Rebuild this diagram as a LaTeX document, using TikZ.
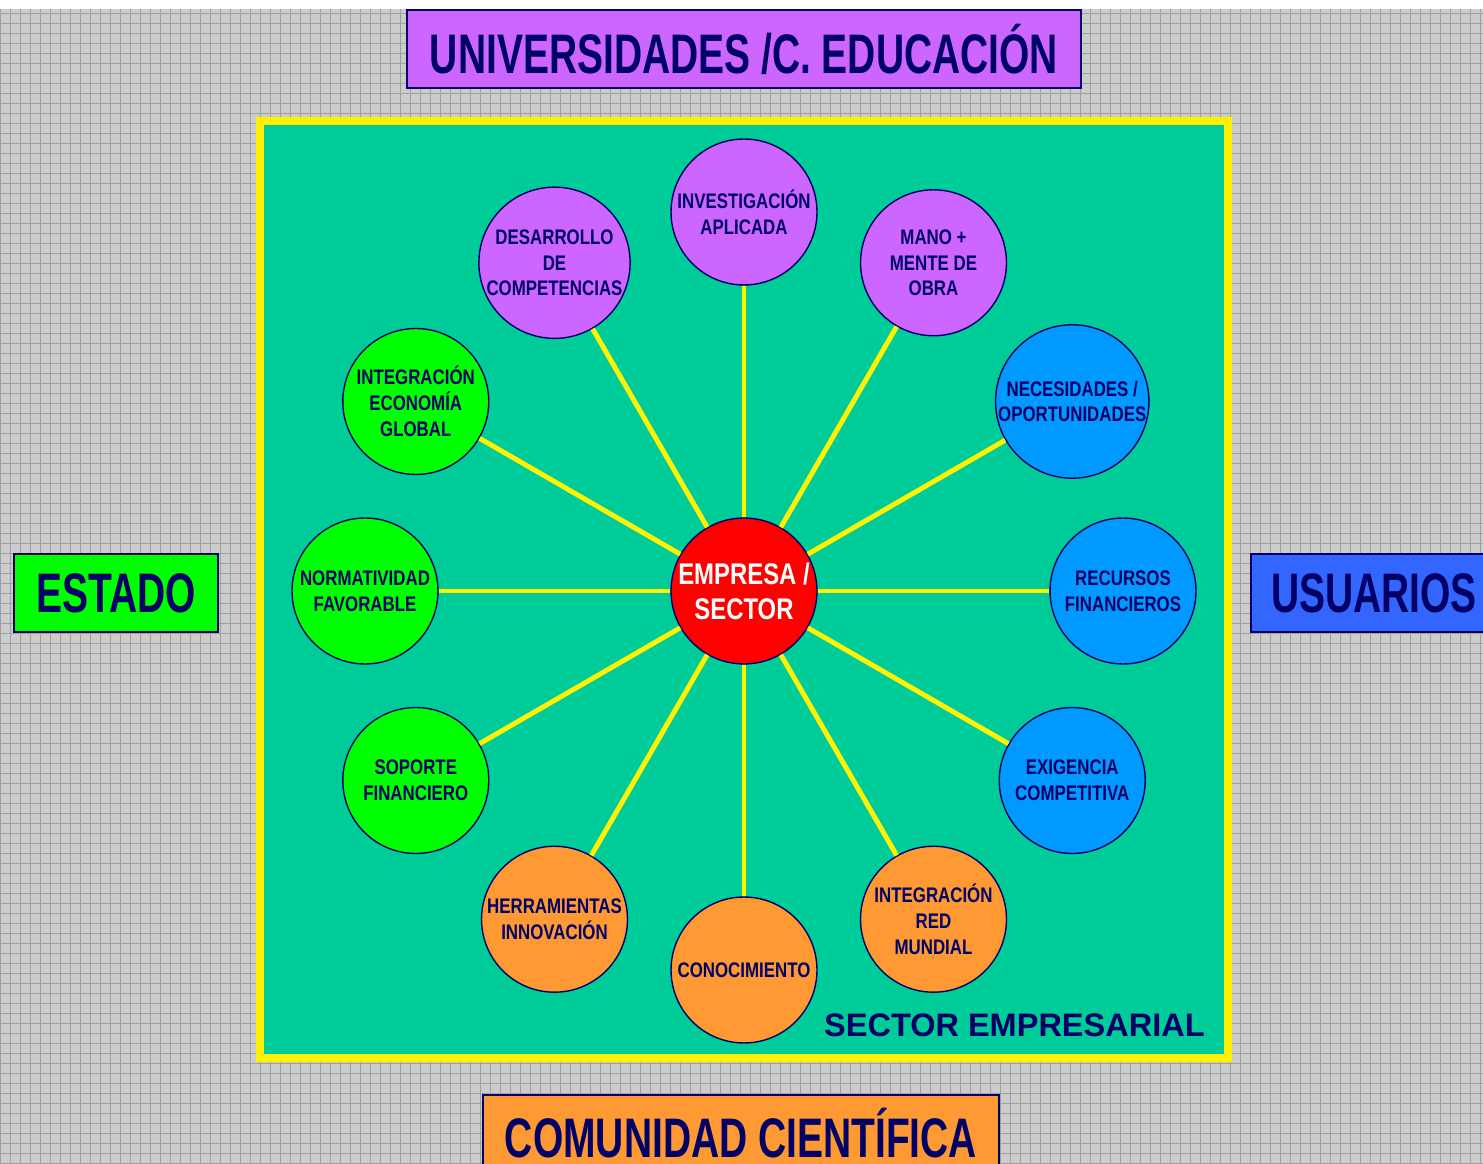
\documentclass[tikz,border=0pt]{standalone}
\usepackage{fontspec}
\setmainfont{Liberation Sans}
\newfontfamily\narrowfont[FakeStretch=0.80]{Liberation Sans}
\newfontfamily\tagfont[FakeStretch=0.70]{Liberation Sans}
\usetikzlibrary{positioning}
\definecolor{navy}{HTML}{000066}
\definecolor{purp}{HTML}{CC66FF}
\definecolor{bluec}{HTML}{0099FF}
\definecolor{greenc}{HTML}{00FF00}
\definecolor{orangec}{HTML}{FF9933}
\definecolor{teal}{HTML}{00CC99}
\definecolor{userblue}{HTML}{3366FF}
\tikzset{
  bubble/.style={circle, draw=navy, line width=0.8pt, minimum size=2.92cm, inner sep=0pt,
    align=center, text=navy, font=\narrowfont\bfseries\fontsize{12}{14.7}\selectfont},
  spoke/.style={yellow, line width=2.8pt},
  tag/.style={draw=navy, line width=0.9pt, text=navy, inner sep=0pt,
    font=\tagfont\bfseries\fontsize{31.7}{36}\selectfont}
}
\begin{document}
\begin{tikzpicture}[x=0.02cm,y=0.02cm]
    \useasboundingbox (0,0) rectangle (1483,1163);
    \clip (0,0) rectangle (1483,1163);
    % background
    \fill[white](0,0) rectangle (1483,1163);
    \fill[gray!40](0,0) rectangle (1483,1154);
    \draw[gray!75, line width=0.4pt](0,0) grid[step=10] (1483,1154);
    % sector frame
    \filldraw[teal, draw=yellow, line width=4.5pt](260,105) rectangle (1228,1042);
    % outside actors
    \node[tag, fill=purp, minimum width=674*0.02cm, minimum height=78*0.02cm] (univ) at (744,1114) {UNIVERSIDADES /C. EDUCACIÓN};
    \node[tag, fill=greenc, minimum width=204*0.02cm, minimum height=78*0.02cm] (estado) at (116,570) {ESTADO};
    \node[tag, fill=userblue, minimum width=246*0.02cm, minimum height=78*0.02cm] (usuarios) at (1374,570) {USUARIOS};
    \filldraw[orangec, draw=navy, line width=0.9pt](483,-10) rectangle (999,68);
    \node[tag, draw=none, text height=23pt, text depth=0pt] (comunidad) at (741,26) {COMUNIDAD CIENTÍFICA};
    \node[anchor=east, inner sep=0pt, text=navy, font=\bfseries\fontsize{18.5}{22}\selectfont] (sector) at (1205,138) {SECTOR EMPRESARIAL};
    % hub and satellites
    \node[bubble, fill=red, text=white, font=\narrowfont\bfseries\fontsize{17}{20}\selectfont] (hub) at (744,572) {EMPRESA /\\SECTOR};
    \foreach \ang/\col/\nm/\txt in {
        90/purp/inv/{INVESTIGACIÓN\\APLICADA},
        60/purp/mano/{MANO +\\MENTE DE\\OBRA},
        30/bluec/nec/{NECESIDADES /\\OPORTUNIDADES},
        0/bluec/rec/{RECURSOS\\FINANCIEROS},
        -30/bluec/exi/{EXIGENCIA\\COMPETITIVA},
        -60/orangec/red/{INTEGRACIÓN\\RED\\MUNDIAL},
        -90/orangec/con/{CONOCIMIENTO},
        -120/orangec/her/{HERRAMIENTAS\\INNOVACIÓN},
        -150/greenc/sop/{SOPORTE\\FINANCIERO},
        180/greenc/nor/{NORMATIVIDAD\\FAVORABLE},
        150/greenc/eco/{INTEGRACIÓN\\ECONOMÍA\\GLOBAL},
        120/purp/des/{DESARROLLO\\DE\\COMPETENCIAS}}{
        \node[bubble, fill=\col] (\nm) at ([shift={(\ang:379)}]hub) {\txt};
        \draw[spoke] (hub) -- (\nm);
    }
\end{tikzpicture}
\end{document}
